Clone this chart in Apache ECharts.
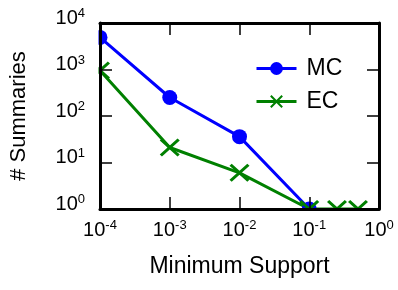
<!DOCTYPE html>
<html><head><meta charset="utf-8">
<script src="https://cdn.jsdelivr.net/npm/echarts@6/dist/echarts.min.js"></script>
<style>html,body{margin:0;padding:0;background:#fff}#c{width:398px;height:290px}</style>
</head><body><div id="c"></div>
<script>
var supports = [1e-4, 1e-3, 1e-2, 1e-1];
var mcValues = [4900, 250, 36, 1];
var ecSupports = [1e-4, 1e-3, 1e-2, 1e-1, 0.25, 0.5];
var ecValues = [950, 21, 6, 1, 1, 1];
var xTicks = [1e-4, 1e-3, 1e-2, 1e-1, 1];
var yTicks = [1, 10, 100, 1000, 10000];

var FONT = "'Liberation Sans', Arial, Helvetica, sans-serif";
var xSym = 'path://M0,1.1L1.1,0L5,3.9L8.9,0L10,1.1L6.1,5L10,8.9L8.9,10L5,6.1L1.1,10L0,8.9L3.9,5Z';
function pow10(v){ var e = Math.round(Math.log10(v)); return '{b|10}{s|' + e + '}'; }
var rich = {
  b: {fontSize: 20, lineHeight: 22, fontFamily: FONT, color: '#000'},
  s: {fontSize: 13, lineHeight: 14, verticalAlign: 'top', fontFamily: FONT, color: '#000'}
};
var axisLine = {show: true, lineStyle: {color: '#000', width: 3}};
var axisTick = {show: true, inside: true, length: 12, lineStyle: {color: '#000', width: 1.5}};

var chart = echarts.init(document.getElementById('c'), null, {renderer: 'canvas'});
chart.setOption({
  animation: false,
  backgroundColor: '#fff',
  grid: {left: 100, right: 19, top: 23, bottom: 81, containLabel: false},
  legend: {
    orient: 'vertical', left: 250, top: 52, itemWidth: 40, itemHeight: 16, itemGap: 10,
    lineStyle: {width: 3},
    textStyle: {fontSize: 23, fontFamily: FONT, color: '#000', padding: [0,0,0,5]},
    data: ['MC', 'EC']
  },
  xAxis: [
    {type: 'log', logBase: 10, min: xTicks[0], max: xTicks[xTicks.length-1], position: 'bottom', z: 10,
     axisLine: axisLine, axisTick: axisTick, splitLine: {show: false}, minorTick: {show: false},
     axisLabel: {margin: 10, formatter: pow10, rich: rich},
     name: 'Minimum Support', nameLocation: 'middle', nameGap: 46,
     nameTextStyle: {fontSize: 23, fontFamily: FONT, color: '#000'}},
    {type: 'log', logBase: 10, min: xTicks[0], max: xTicks[xTicks.length-1], position: 'top', z: 10,
     axisLine: axisLine, axisTick: axisTick, splitLine: {show: false}, axisLabel: {show: false}}
  ],
  yAxis: [
    {type: 'log', logBase: 10, min: yTicks[0], max: yTicks[yTicks.length-1], position: 'left', z: 10,
     axisLine: axisLine, axisTick: axisTick, splitLine: {show: false},
     axisLabel: {margin: 15, formatter: pow10, rich: rich, padding: [0,0,10,0]},
     name: '# Summaries', nameLocation: 'middle', nameGap: 70, nameRotate: 90,
     nameTextStyle: {fontSize: 22, fontFamily: FONT, color: '#000'}},
    {type: 'log', logBase: 10, min: yTicks[0], max: yTicks[yTicks.length-1], position: 'right', z: 10,
     axisLine: axisLine, axisTick: axisTick, splitLine: {show: false}, axisLabel: {show: false}}
  ],
  graphic: {
    elements: [
      {type: 'rect', z: 5, silent: true, shape: {x: 86, y: 5, width: 12.5, height: 220}, style: {fill: '#fff'}},
      {type: 'rect', z: 5, silent: true, shape: {x: 80, y: 210.5, width: 310, height: 10}, style: {fill: '#fff'}}
    ]
  },
  series: [
    {name: 'MC', type: 'line', z: 2, data: supports.map(function(s,i){return [s, mcValues[i]];}),
     color: '#0000ff', symbol: 'circle', symbolSize: 15, showAllSymbol: true,
     lineStyle: {width: 3, color: '#0000ff'}, itemStyle: {color: '#0000ff'}},
    {name: 'EC', type: 'line', z: 2, data: ecSupports.map(function(s,i){return [s, ecValues[i]];}),
     color: '#008000', symbol: xSym, symbolSize: [20, 18], showAllSymbol: true,
     lineStyle: {width: 3, color: '#008000'}, itemStyle: {color: '#008000'}}
  ]
});
</script></body></html>
